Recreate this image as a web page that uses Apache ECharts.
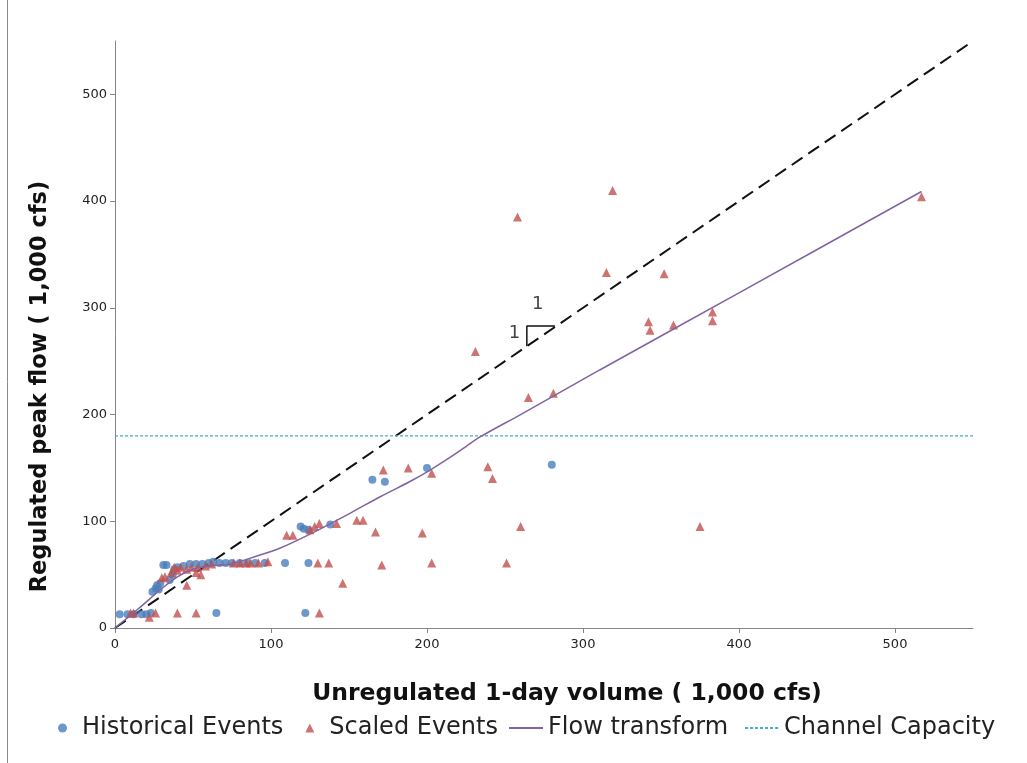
<!DOCTYPE html>
<html>
<head>
<meta charset="utf-8">
<script src="https://cdn.jsdelivr.net/npm/echarts@6/dist/echarts.min.js"></script>
<style>html,body{margin:0;padding:0;background:#fff}#c{width:1027px;height:763px}</style>
</head>
<body>
<div id="c"></div>
<script>
// ---- data ----
const xTicks = [0, 100, 200, 300, 400, 500];
const yTicks = [0, 100, 200, 300, 400, 500];
const historicalEvents = [
  [3,13],[8,13],[12,13],[17,13],[20,13],[23,14],
  [24,34],[26,37],[27,40],[29,42],[28,36],[31,59],[33,59],[35,45],[37,50],[38,55],[40,57],
  [44,58],[48,60],[52,60],[56,60],[60,61],[63,62],[67,61],[71,61],[75,61],[80,61],[85,61],
  [90,61],[96,61],[109,61],[65,14],[122,14],[124,61],[119,95],[121,93],[124,92],[138,97],
  [165,139],[173,137],[200,150],[280,153]
];
const scaledEvents = [
  [10,14],[12,14],[22,10],[26,14],[40,14],[52,14],[30,47],[32,48],[36,52],[38,57],[40,54],
  [42,57],[46,40],[46,55],[49,57],[52,52],[53,57],[55,50],[58,58],[62,60],[76,61],[80,61],
  [84,61],[87,61],[92,61],[98,62],[110,87],[114,87],[125,92],[128,95],[131,98],[142,98],
  [155,101],[159,101],[130,61],[137,61],[131,14],[146,42],[167,90],[171,59],[172,148],
  [188,150],[197,89],[203,145],[203,61],[231,259],[239,151],[242,140],[251,61],[258,385],
  [260,95],[265,216],[281,220],[315,333],[319,410],[342,287],[343,279],[352,332],[358,284],
  [375,95],[383,296],[383,288],[517,404]
];
const flowTransform = [
  [0,0],[15,18],[30,37],[40,48],[50,55],[60,58],[74,60],[90,67],[106,75],[125,88],[150,107],
  [170,123],[190,138],[202,148],[215,160],[225,170],[234,179],[260,200],[311,242],[400,314],[517,409]
];
const channelCapacity = [[0,180],[550,180]];
const oneToOne = [[0,0],[550,550]];
const slopeMark = [[264,264],[264,283],[282,283]];
const slopeLabels = [[256,276,'1'],[271,303,'1']];

const FONT = 'DejaVu Sans';
const chart = echarts.init(document.getElementById('c'));
chart.setOption({
  animation: false,
  graphic: [{type:'line', shape:{x1:7.5,y1:0,x2:7.5,y2:763}, style:{stroke:'#8a8a8a', lineWidth:1}}],
  grid: {left:115, right:54, top:41, bottom:135},
  legend: [
    {
      bottom: 18, left: 53, itemGap: 22, itemWidth: 9, itemHeight: 9,
      textStyle: {fontFamily: FONT, fontSize: 24, color: '#222', padding:[0,0,0,10]},
      data: [
        {name:'Historical Events', icon:'circle'},
        {name:'Scaled Events', icon:'triangle'}
      ]
    },
    {
      bottom: 18, left: 503, itemGap: 16, itemWidth: 34, itemHeight: 10,
      textStyle: {fontFamily: FONT, fontSize: 24, color: '#222'},
      data: [
        {name:'Flow transform', itemStyle:{opacity:0}},
        {name:'Channel Capacity', itemStyle:{opacity:0}}
      ]
    }
  ],
  xAxis: {
    type:'value', min:0, max:550, interval:100,
    name:'Unregulated 1-day volume ( 1,000 cfs)', nameLocation:'middle', nameGap:54,
    nameTextStyle:{fontFamily:FONT, fontSize:23.5, fontWeight:'bold', color:'#111', padding:[0,0,0,46]},
    axisLine:{show:true, lineStyle:{color:'#868686'}},
    axisTick:{show:true, length:5, lineStyle:{color:'#868686'}, customValues: xTicks},
    axisLabel:{fontFamily:FONT, fontSize:13, color:'#222', customValues: xTicks, margin:10},
    splitLine:{show:false}
  },
  yAxis: {
    type:'value', min:0, max:550, interval:100,
    name:'Regulated peak flow ( 1,000 cfs)', nameLocation:'middle', nameGap:63,
    nameTextStyle:{fontFamily:FONT, fontSize:22.5, fontWeight:'bold', color:'#111', padding:[0,104,0,0]},
    axisLine:{show:true, lineStyle:{color:'#868686'}},
    axisTick:{show:true, length:5, lineStyle:{color:'#868686'}, customValues: yTicks},
    axisLabel:{fontFamily:FONT, fontSize:13, color:'#222', customValues: yTicks, margin:8},
    splitLine:{show:false}
  },
  series: [
    {name:'oneToOne', type:'line', data:oneToOne, symbol:'none', silent:true,
     lineStyle:{color:'#111', width:2, type:[13,7]}, z:1},
    {name:'Channel Capacity', type:'line', data:channelCapacity, symbol:'none',
     lineStyle:{color:'#4BACC6', width:1.3, type:[3,2]}, itemStyle:{color:'#4BACC6'}, z:1},
    {name:'Flow transform', type:'line', data:flowTransform, symbol:'none', smooth:0.3,
     lineStyle:{color:'#8064A2', width:1.5}, itemStyle:{color:'#8064A2'}, z:4},
    {name:'Historical Events', type:'scatter', data:historicalEvents, symbol:'circle', symbolSize:8,
     itemStyle:{color:'#4A7EBB'}, z:3},
    {name:'Scaled Events', type:'scatter', data:scaledEvents, symbol:'triangle', symbolSize:9,
     itemStyle:{color:'#C0504D'}, z:3},
    {name:'slopeMark', type:'line', data:slopeMark, symbol:'none', silent:true,
     lineStyle:{color:'#111', width:1.5}, z:5},
    {name:'slopeLabels', type:'scatter', data:slopeLabels, symbolSize:0, silent:true,
     label:{show:true, formatter:p=>p.data[2], fontFamily:FONT, fontSize:18, color:'#111', position:'inside'}, z:5}
  ]
});
</script>
</body>
</html>
